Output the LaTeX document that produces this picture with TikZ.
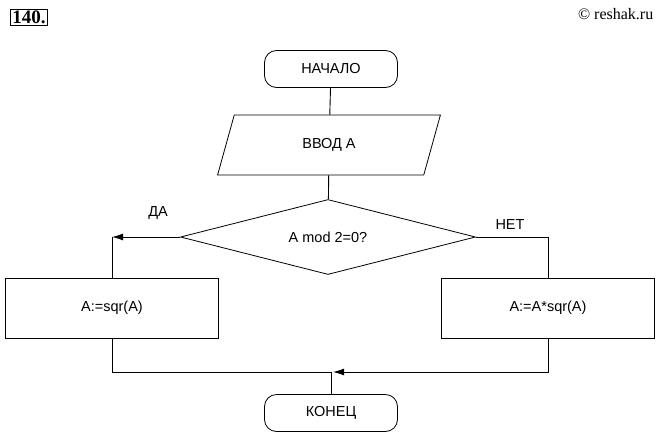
\documentclass[tikz,border=0pt]{standalone}
\usepackage{fontspec}
\setmainfont{Liberation Sans}
\newfontfamily\numfont{Liberation Serif}
\usetikzlibrary{shapes.geometric,arrows.meta}
\tikzstyle{every node}=[draw=black,thick,font=\fontsize{14.5}{17}\selectfont]
\tikzstyle{term}=[rounded corners=12pt,minimum width=133pt,minimum height=37pt]
\tikzstyle{io}=[trapezium,trapezium left angle=75,trapezium right angle=105,minimum width=224pt,minimum height=60pt,trapezium stretches=true]
\tikzstyle{cond}=[diamond,aspect=4,minimum width=295pt,minimum height=75pt,inner sep=0pt]
\tikzstyle{proc}=[minimum width=213pt,minimum height=60pt]
\tikzstyle{label}=[draw=none]
\begin{document}
\begin{tikzpicture}[x=1pt,y=-1pt,line width=0.9pt]
  \useasboundingbox (0,0) rectangle (659,440);
  \node [draw,thick,font=\numfont\bfseries\fontsize{19}{21}\selectfont,inner sep=1.5pt] (num) at (29,17) {140.};
  \node [label,font=\numfont\fontsize{16}{18}\selectfont,anchor=east] (src) at (657,14) {\textcopyright\ reshak.ru};
  \node [term] (start) at (331,69) {НАЧАЛО};
  \node [io] (input) at (329,145) {ВВОД А};
  \node [cond] (check) at (328,237) {A mod 2=0?};
  \node [proc] (yes) at (112,308) {A:=sqr(A)};
  \node [proc] (no) at (548,308) {A:=A*sqr(A)};
  \node [term] (stop) at (331,413) {КОНЕЦ};
  \node [label] (da) at (158,213) {ДА};
  \node [label] (net) at (510,225) {НЕТ};
  \coordinate (merge) at (331,372);
  \draw (start) -- (input);
  \draw (input) -- (check);
  \draw [-{Latex[length=11pt,width=7pt]}] (check.west) -- (yes.north |- check.west);
  \draw (yes.north |- check.west) -- (yes.north);
  \draw (check.east) -| (no.north);
  \draw (yes.south) |- (merge);
  \draw [-{Latex[length=11pt,width=7pt]}] (no.south) |- ([xshift=2pt]merge);
  \draw (merge) -- (stop);
\end{tikzpicture}
\end{document}
